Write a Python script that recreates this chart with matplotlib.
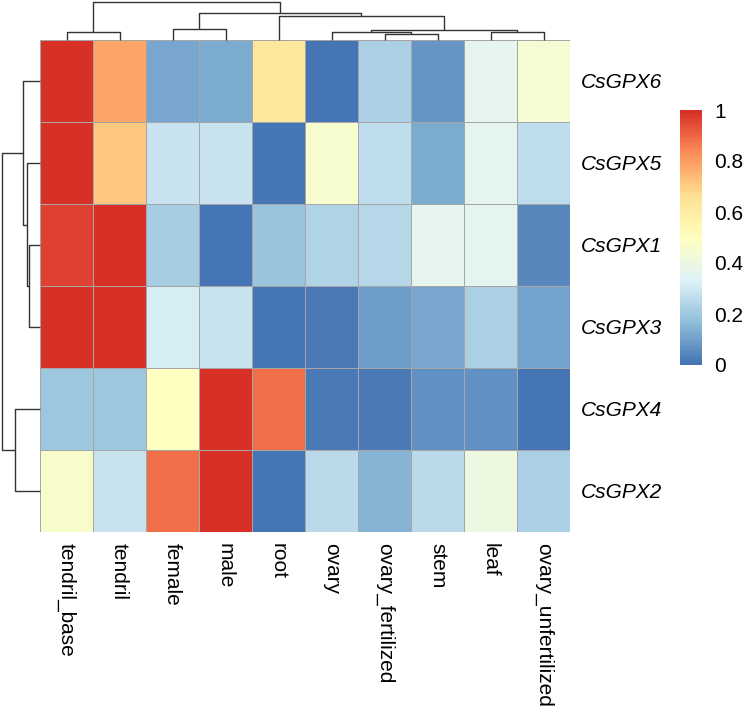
import numpy as np
import matplotlib
matplotlib.use("Agg")
import matplotlib.pyplot as plt
from matplotlib.colors import LinearSegmentedColormap

plt.rcParams['font.family'] = ['Liberation Sans', 'DejaVu Sans']

# tissues (columns) and genes (rows), already in clustered order
tissues = ['tendril_base', 'tendril', 'female', 'male', 'root', 'ovary',
           'ovary_fertilized', 'stem', 'leaf', 'ovary_unfertilized']
genes = ['CsGPX6', 'CsGPX5', 'CsGPX1', 'CsGPX3', 'CsGPX4', 'CsGPX2']

# row-scaled expression
gpx6 = [1.00, 0.78, 0.11, 0.12, 0.62, 0.00, 0.22, 0.07, 0.36, 0.44]
gpx5 = [1.00, 0.71, 0.28, 0.28, 0.00, 0.45, 0.26, 0.12, 0.35, 0.26]
gpx1 = [0.96, 1.00, 0.21, 0.00, 0.18, 0.23, 0.24, 0.36, 0.35, 0.04]
gpx3 = [1.00, 0.99, 0.31, 0.28, 0.00, 0.01, 0.09, 0.11, 0.22, 0.10]
gpx4 = [0.19, 0.19, 0.49, 1.00, 0.88, 0.01, 0.01, 0.06, 0.06, 0.00]
gpx2 = [0.46, 0.28, 0.88, 1.00, 0.00, 0.25, 0.14, 0.25, 0.40, 0.22]

# dendrogram merges: (left node, right node, height); new nodes numbered after leaves
col_merges = [(6, 7, 0.15), (5, 10, 0.22), (8, 9, 0.21), (0, 1, 0.21),
              (11, 12, 0.27), (2, 3, 0.30), (4, 14, 0.62), (15, 16, 0.72),
              (13, 17, 1.00)]
row_merges = [(2, 3, 0.28), (1, 6, 0.35), (0, 7, 0.45), (4, 5, 0.65),
              (8, 9, 1.00)]

ticks_cb = [0, 0.2, 0.4, 0.6, 0.8, 1]

data = np.array([gpx6, gpx5, gpx1, gpx3, gpx4, gpx2])

# pheatmap default palette
cmap = LinearSegmentedColormap.from_list(
    'rdylbu', ['#4575B4', '#91BFDB', '#E0F3F8', '#FFFFBF', '#FEE090', '#FC8D59', '#D73027'], N=100)


def dendro_segments(n, merges):
    pos = {i: i + 0.5 for i in range(n)}
    hgt = {i: 0.0 for i in range(n)}
    segs = []
    for k, (a, b, h) in enumerate(merges):
        node = n + k
        segs.append(([pos[a], pos[a], pos[b], pos[b]], [hgt[a], h, h, hgt[b]]))
        pos[node] = (pos[a] + pos[b]) / 2
        hgt[node] = h
    return segs


fig = plt.figure(figsize=(7.5, 7.08), dpi=100)
W, H = 750, 708
hx0, hx1, hy0, hy1 = 40, 570, 40, 532
ax = fig.add_axes([hx0 / W, 1 - hy1 / H, (hx1 - hx0) / W, (hy1 - hy0) / H])
mesh = ax.pcolormesh(data, cmap=cmap, vmin=0, vmax=1, edgecolors='#A6A6A6', linewidth=0.7)
ax.set_xlim(0, len(tissues))
ax.set_ylim(len(genes), 0)
for s in ax.spines.values():
    s.set_visible(False)
ax.tick_params(length=0)
ax.set_xticks(np.arange(len(tissues)) + 0.5)
ax.set_xticklabels(tissues, rotation=270, fontsize=15, va='top', ha='center')
ax.tick_params(axis='x', pad=8)
ax.yaxis.tick_right()
ax.set_yticks(np.arange(len(genes)) + 0.5)
ax.set_yticklabels(genes, fontsize=15, style='italic')
ax.tick_params(axis='y', pad=8)

# top dendrogram
axt = fig.add_axes([hx0 / W, 1 - hy0 / H, (hx1 - hx0) / W, 38 / H])
for xs, ys in dendro_segments(len(tissues), col_merges):
    axt.plot(xs, ys, color='#333333', lw=1.0, solid_capstyle='butt', clip_on=False)
axt.set_xlim(0, len(tissues))
axt.set_ylim(0, 1)
axt.axis('off')

# left dendrogram
axl = fig.add_axes([2 / W, 1 - hy1 / H, (hx0 - 2) / W, (hy1 - hy0) / H])
for xs, ys in dendro_segments(len(genes), row_merges):
    axl.plot(ys, xs, color='#333333', lw=1.0, solid_capstyle='butt', clip_on=False)
axl.set_xlim(1, 0)
axl.set_ylim(len(genes), 0)
axl.axis('off')

# colour legend
axc = fig.add_axes([680 / W, 1 - 365 / H, 22 / W, 255 / H])
cb = fig.colorbar(mesh, cax=axc, ticks=ticks_cb)
cb.outline.set_visible(False)
cb.ax.set_yticklabels(['0', '0.2', '0.4', '0.6', '0.8', '1'])
cb.ax.tick_params(length=0, labelsize=15, pad=9)

fig.savefig('out.png', dpi=100)
